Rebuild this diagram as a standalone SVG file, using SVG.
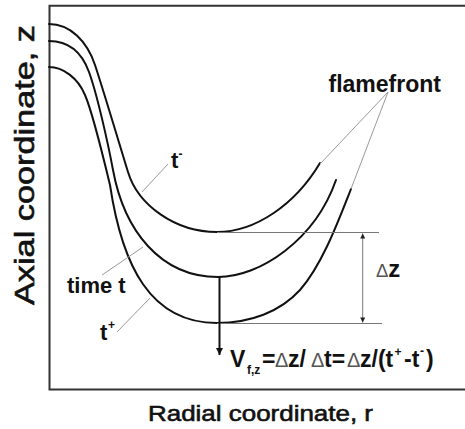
<svg xmlns="http://www.w3.org/2000/svg" width="465" height="429" viewBox="0 0 465 429">
<style>
  text { font-family: "Liberation Sans", Arial, sans-serif; fill: #111; }
  .b { font-weight: bold; }
  .axis { font-size: 28px; stroke: #111; stroke-width: 0.6; }
  .lab { font-size: 22px; font-weight: bold; }
  .sup { font-size: 12px; font-weight: bold; }
  .dl { font-weight: normal; fill: #555; }
  .curve { fill: none; stroke: #111; stroke-width: 2; stroke-linecap: round; }
  .lead { fill: none; stroke: #999; stroke-width: 1; }
  .ref { fill: none; stroke: #777; stroke-width: 1; }
  .frame { fill: none; stroke: #333; stroke-width: 2; }
</style>
<defs>
  <marker id="ah" viewBox="0 0 10 10" refX="10" refY="5" markerWidth="15" markerHeight="7" markerUnits="userSpaceOnUse" orient="auto">
    <path d="M0,0 L10,5 L0,10 z" fill="#111"/>
  </marker>
  <marker id="dim" viewBox="0 0 10 10" refX="10" refY="5" markerWidth="8" markerHeight="5" markerUnits="userSpaceOnUse" orient="auto-start-reverse">
    <path d="M0,0 L10,5 L0,10 z" fill="#222"/>
  </marker>
</defs>
<rect width="465" height="429" fill="#fff"/>

<g id="frame">
  <path class="frame" d="M470,5.7 H49.5 V389.5 H470"/>
</g>

<g id="axis-labels">
  <text class="axis" transform="translate(33.5,305) rotate(-90)" textLength="280" lengthAdjust="spacingAndGlyphs">Axial coordinate, z</text>
  <text class="axis" x="148" y="420.5" style="font-size:22.5px" textLength="225" lengthAdjust="spacingAndGlyphs">Radial coordinate, r</text>
</g>

<g id="curve-tminus">
  <path class="curve" d="M49,24 C70,24 87,41 95,65 C103,89 120,146 128,172 C138,205 175,232 217,232 C255,232 295,205 320,163"/>
</g>
<g id="curve-t">
  <path class="curve" d="M49,41 C66,41 81,50 89,72 C97,94 108,143 113,170 C124,230 160,277 218,277 C260,277 315,240 336,180"/>
</g>
<g id="curve-tplus">
  <path class="curve" d="M49,67 C63,67 78,78 85,95 C92,111 104,160 110,185 C122,265 150,323 217,323 C250,323 280,312 300,290 C322,265 338,222 351,189"/>
</g>

<g id="connectors">
  <line class="lead" x1="388" y1="92" x2="320" y2="164"/>
  <line class="lead" x1="388" y1="92" x2="351" y2="189"/>
  <line class="lead" x1="142" y1="192" x2="168" y2="164"/>
  <line class="lead" x1="143" y1="247" x2="102" y2="275"/>
  <line class="lead" x1="150" y1="298" x2="117" y2="332"/>
  <line class="ref" x1="217" y1="232.5" x2="379" y2="232.5"/>
  <line class="ref" x1="217" y1="323.5" x2="382" y2="323.5"/>
  <line class="ref" x1="362.7" y1="233.5" x2="362.7" y2="322.5" marker-start="url(#dim)" marker-end="url(#dim)"/>
  <line x1="219.5" y1="277" x2="219.5" y2="355" stroke="#111" stroke-width="2" marker-end="url(#ah)"/>
</g>

<g id="label-flamefront">
  <text class="lab" x="328.5" y="91.5" style="font-size:23px">flamefront</text>
</g>
<g id="label-tminus">
  <text class="lab" x="171" y="168">t<tspan class="sup" x="178.5" y="158">-</tspan></text>
</g>
<g id="label-time-t">
  <text class="lab" x="67" y="293">time t</text>
</g>
<g id="label-tplus">
  <text class="lab" x="100" y="340">t<tspan class="sup" x="108" y="329">+</tspan></text>
</g>
<g id="label-dz">
  <text x="376" y="277"><tspan class="dl" style="font-size:18.5px">Δ</tspan><tspan class="b" style="font-size:24px">z</tspan></text>
</g>
<g id="label-formula">
  <text class="b" y="366.5" style="font-size:23px"><tspan x="230">V</tspan><tspan class="sup" x="247" y="374">f,z</tspan><tspan x="262" y="366.5">=</tspan><tspan class="dl" x="275" style="font-size:20px">Δ</tspan><tspan x="288">z/</tspan><tspan class="dl" x="311" style="font-size:20px">Δ</tspan><tspan x="324">t=</tspan><tspan class="dl" x="347" style="font-size:20px">Δ</tspan><tspan x="360">z/(t</tspan><tspan class="sup" x="394.5" y="356">+</tspan><tspan x="404" y="366.5">-t</tspan><tspan class="sup" x="420" y="355">-</tspan><tspan x="426" y="366.5">)</tspan></text>
</g>
</svg>
